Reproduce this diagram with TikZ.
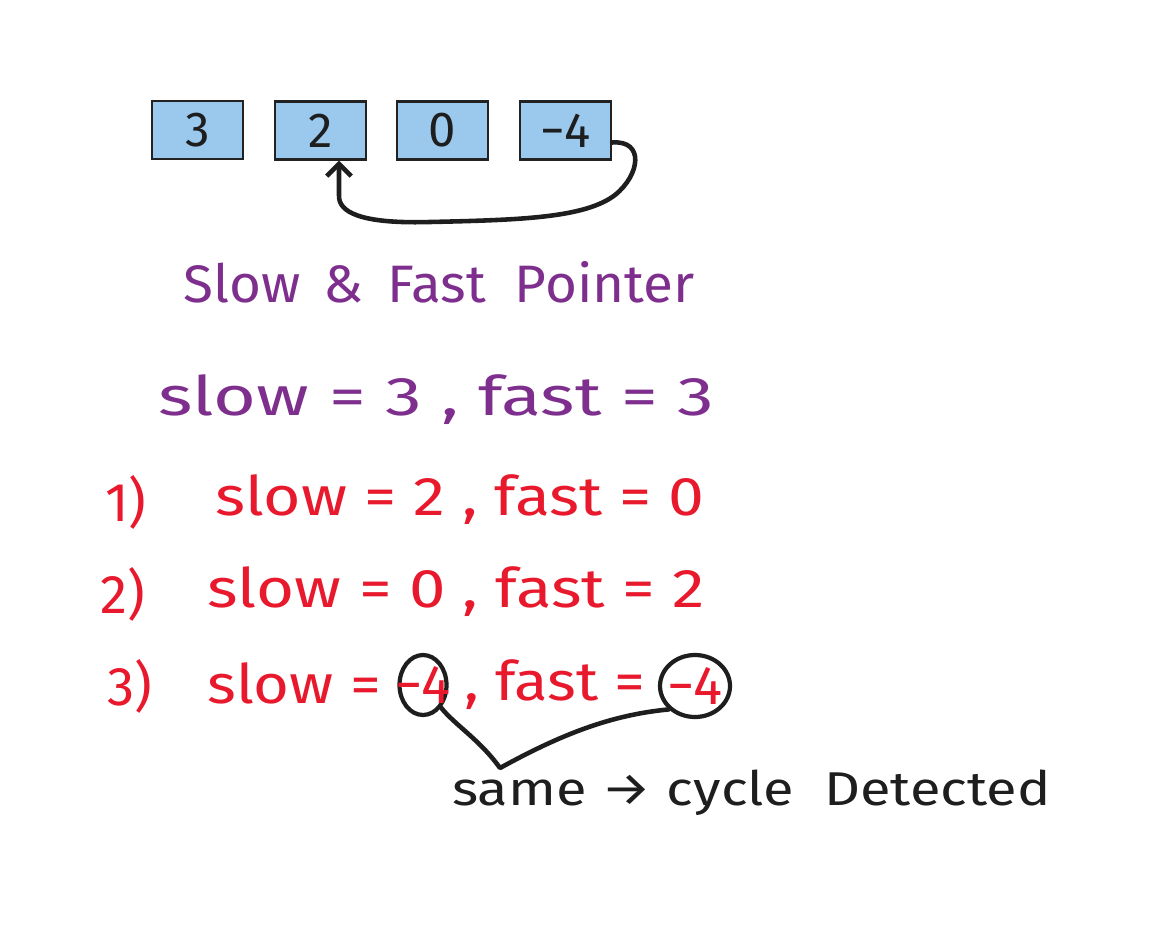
\documentclass[tikz,border=0pt]{standalone}
\usepackage{graphicx}
\usepackage{fontspec}
\setmainfont{Fira Sans}
\usetikzlibrary{shapes.geometric,arrows.meta}
\definecolor{boxfill}{HTML}{9BC9EE}
\definecolor{boxline}{HTML}{222222}
\definecolor{hpurple}{HTML}{7E2F8E}
\definecolor{hred}{HTML}{E8192C}
\definecolor{hink}{HTML}{1E1E1E}
\newcommand{\hs}[2]{\scalebox{#1}[1]{#2}}
\begin{document}
\begin{tikzpicture}[x=0.02cm,y=-0.02cm,
  cell/.style={draw=boxline,line width=1.2pt,fill=boxfill,minimum width=1.82cm,minimum height=1.16cm,inner sep=0pt,font=\fontsize{28}{30}\selectfont,text=hink},
  title/.style={text=hpurple,font=\fontsize{30}{34}\selectfont,inner sep=0pt},
  purp/.style={text=hpurple,font=\fontsize{31}{36}\selectfont,inner sep=0pt},
  redt/.style={text=hred,font=\fontsize{31}{36}\selectfont,inner sep=0pt},
  blk/.style={text=hink,font=\fontsize{27}{30}\selectfont,inner sep=0pt},
  ring/.style={draw=hink,line width=2.4pt,ellipse,inner sep=0pt},
  ink/.style={draw=hink,line width=2.6pt,line cap=round,line join=round}]
\useasboundingbox (0,0) rectangle (1151,929);
% list cells
\node[cell] (n3) at (197.5,130) {3};
\node[cell] (n2) at (320.5,130.5) {2};
\node[cell] (n0) at (442.5,130.5) {0};
\node[cell] (n4) at (565.5,130.5) {−4};
% back edge
\draw[ink,-{Straight Barb[length=7pt,width=14pt,line width=2.6pt]}] (n4.east) ++(0,12) coordinate (b0)
  .. controls (645,140) and (640,175) .. (615,195)
  .. controls (585,218) and (520,220) .. (430,222)
  .. controls (360,224) and (338,212) .. (339,195)
  -- (n2.south -| 339,0);
% title
\node[title,anchor=west] (t) at (183,282) {\hs{1.04}{Slow \,\&\, Fast\ \ Pointer}};
\node[purp,anchor=west] (l0) at (158,400) {\hs{1.35}{slow = 3 , fast = 3}};
% steps
\node[redt,anchor=west] (k1) at (105,502) {1)};
\node[redt,anchor=west] (s1) at (215,500) {\hs{1.18}{slow = 2 , fast = 0}};
\node[redt,anchor=west] (k2) at (100,594) {2)};
\node[redt,anchor=west] (s2) at (207,592) {\hs{1.2}{slow = 0 , fast = 2}};
\node[redt,anchor=west] (k3) at (107,686) {3)};
\node[redt,anchor=west] (s3a) at (207,683) {\hs{1.13}{slow =}};
\node[ring,minimum width=0.94cm,minimum height=1.2cm] (c1) at (423,685) {};
\node[redt] (v1) at (c1) {−4};
\node[redt,anchor=west] (s3b) at (464,685) {\hs{1.13}{, fast =}};
\node[ring,minimum width=1.4cm,minimum height=1.24cm] (c2) at (695,686) {};
\node[redt] (v2) at (c2) {−4};
% same connector
\coordinate (vx) at (500,768);
\draw[ink] (c1.south east) .. controls (455,725) and (480,740) .. (vx)
  .. controls (560,735) and (610,715) .. (c2.south west);
\node[blk,anchor=west] (res) at (452,793) {\hs{1.18}{same → cycle\ \ Detected}};
\end{tikzpicture}
\end{document}
